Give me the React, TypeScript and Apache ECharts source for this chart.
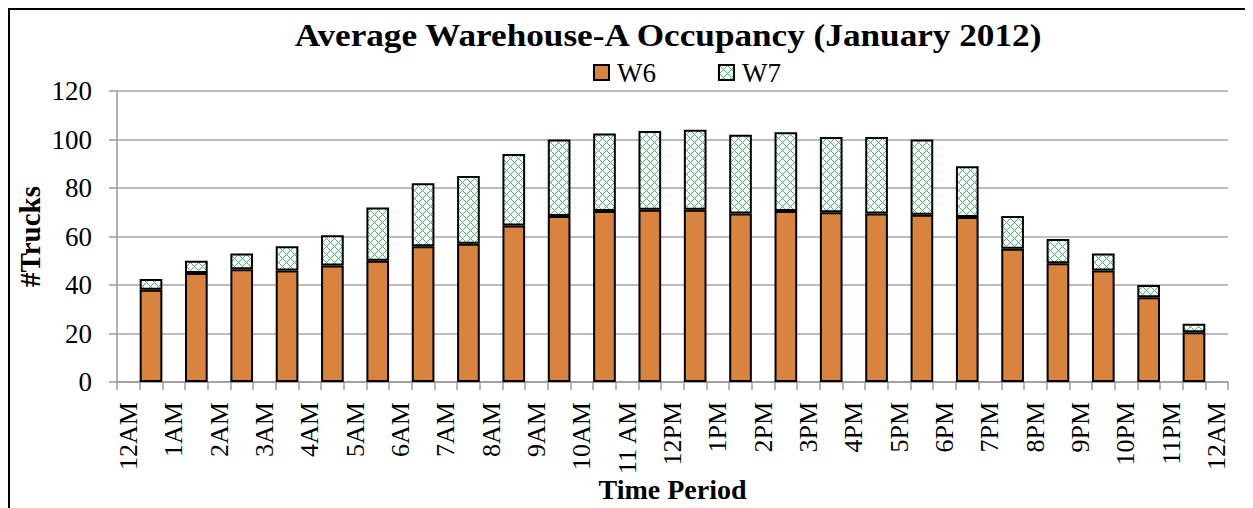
import React, { useEffect, useRef } from "react";
import * as echarts from "echarts";

const tickLabels = [
  "12AM", "1AM", "2AM", "3AM", "4AM", "5AM", "6AM", "7AM", "8AM", "9AM", "10AM", "11 AM",
  "12PM", "1PM", "2PM", "3PM", "4PM", "5PM", "6PM", "7PM", "8PM", "9PM", "10PM", "11PM", "12AM",
];
const w6Values = [38, 45, 46.5, 46, 48, 50, 56, 57, 64.5, 68.5, 70.5, 71, 71, 69.5, 70.5, 70, 69.5, 69, 68, 55, 49, 46, 35, 20.5];
const totalValues = [42.5, 50, 53, 56, 60.5, 72, 82, 85, 94, 100, 102.5, 103.5, 104, 102, 103, 101, 101, 100, 89, 68.5, 59, 53, 40, 24];
const w7Values = totalValues.map((t, i) => Math.round((t - w6Values[i]) * 10) / 10);

const FONT = '"Liberation Serif", "Times New Roman", serif';

function makePattern() {
  const size = 8;
  const c = document.createElement("canvas");
  c.width = size;
  c.height = size;
  const ctx = c.getContext("2d")!;
  ctx.fillStyle = "#ffffff";
  ctx.fillRect(0, 0, size, size);
  ctx.fillStyle = "#3cbf6a";
  for (let x = 0; x < size; x++) {
    for (let y = 0; y < size; y++) {
      if ((x + y) % size === 0 || (x - y + size) % size === 0) ctx.fillRect(x, y, 1, 1);
    }
  }
  return { image: c, repeat: "repeat", imageWidth: size, imageHeight: size } as any;
}

export default function App() {
  const ref = useRef<HTMLDivElement>(null);
  useEffect(() => {
    if (!ref.current) return;
    const chart = echarts.init(ref.current, undefined, { renderer: "svg" });
    const categories: string[] = [];
    const w6Data: (number | string)[] = [];
    const w7Data: (number | string)[] = [];
    tickLabels.forEach((lab, i) => {
      categories.push(lab);
      w6Data.push("-");
      w7Data.push("-");
      if (i < w6Values.length) {
        categories.push("");
        w6Data.push(w6Values[i]);
        w7Data.push(w7Values[i]);
      }
    });
    const pattern = makePattern();
    chart.setOption({
      animation: false,
      backgroundColor: "#ffffff",
      textStyle: { fontFamily: FONT },
      graphic: [
        {
          type: "text",
          x: 658,
          y: 9,
          scaleX: 1.1,
          style: {
            text: "Average Warehouse-A Occupancy (January 2012)",
            fontFamily: FONT,
            fontWeight: "bold",
            fontSize: 32,
            fill: "#000",
            align: "center",
            verticalAlign: "top",
          },
        },
      ],
      legend: {
        left: 578,
        top: 44,
        itemWidth: 15,
        itemHeight: 15,
        itemGap: 62,
        icon: "rect",
        textStyle: { fontFamily: FONT, fontSize: 27, color: "#000", padding: [0, 0, 0, 3] },
        data: ["W6", "W7"],
      },
      grid: { left: 107, right: 25, top: 81, bottom: 126, outerBoundsMode: "none", containLabel: false },
      xAxis: {
        type: "category",
        data: categories,
        boundaryGap: true,
        name: "Time Period",
        nameLocation: "middle",
        nameGap: 93,
        nameMoveOverlap: false,
        nameTextStyle: { fontFamily: FONT, fontWeight: "bold", fontSize: 28, color: "#000" },
        axisLine: { lineStyle: { color: "#9a9a9a", width: 1.5 } },
        axisTick: { show: true, interval: 0, length: 8, lineStyle: { color: "#9a9a9a", width: 1.5 } },
        axisLabel: {
          interval: 0,
          rotate: 90,
          margin: 20,
          fontFamily: FONT,
          fontSize: 26,
          color: "#000",
        },
      },
      yAxis: {
        type: "value",
        min: 0,
        max: 120,
        interval: 20,
        name: "#Trucks",
        nameLocation: "middle",
        nameGap: 73,
        nameMoveOverlap: false,
        nameTextStyle: { fontFamily: FONT, fontWeight: "bold", fontSize: 29, color: "#000" },
        axisLine: { show: true, lineStyle: { color: "#9a9a9a", width: 1.5 } },
        axisTick: { show: true, length: 8, lineStyle: { color: "#9a9a9a", width: 1.5 } },
        splitLine: { lineStyle: { color: "#a6a6a6", width: 1.5 } },
        axisLabel: { margin: 25, fontFamily: FONT, fontSize: 27, color: "#000" },
      },
      series: [
        {
          name: "W6",
          type: "bar",
          stack: "total",
          barCategoryGap: "0%",
          barWidth: "100%",
          data: w6Data,
          itemStyle: { color: "#d9843e", borderColor: "#000", borderWidth: 2 },
        },
        {
          name: "W7",
          type: "bar",
          stack: "total",
          barCategoryGap: "0%",
          barWidth: "100%",
          data: w7Data,
          itemStyle: { color: pattern, borderColor: "#000", borderWidth: 2 },
        },
      ],
    });
    return () => chart.dispose();
  }, []);
  return (
    <div style={{ borderLeft: "2px solid #000", borderTop: "2px solid #000", width: 1243, height: 498 }}>
      <div ref={ref} style={{ width: 1243, height: 498 }} />
    </div>
  );
}
